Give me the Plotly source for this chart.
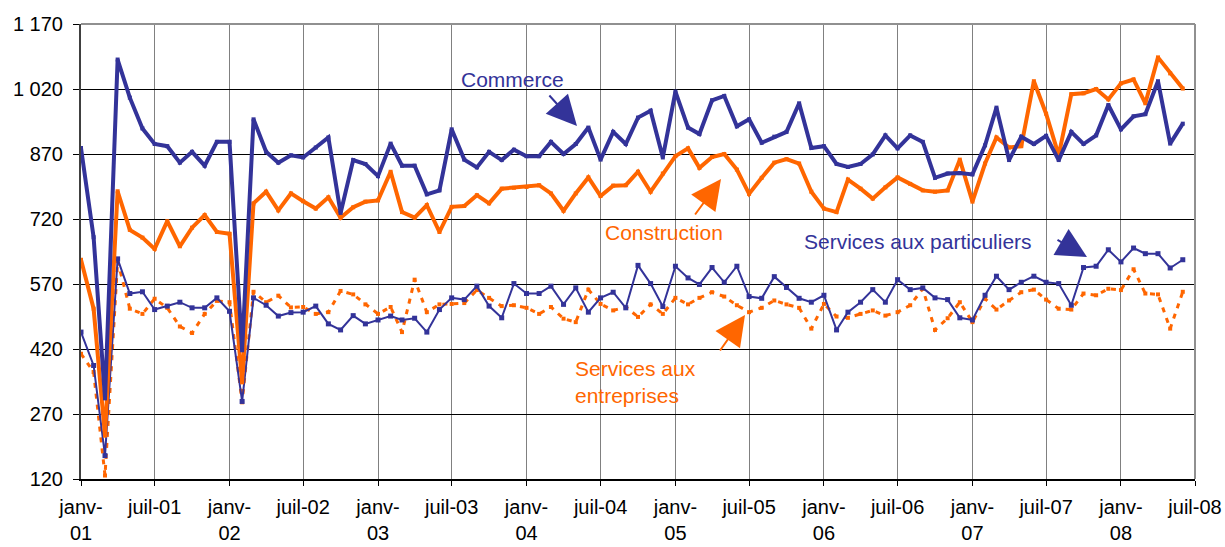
import pandas as pd
import plotly.graph_objects as go

# Monthly series, Jan 2001 -> Jun 2008
months = pd.date_range("2001-01-01", periods=90, freq="MS")

commerce = [884, 678, 306, 1088, 1000, 929, 893, 888, 850, 875, 843, 898,
            898, 417, 950, 875, 850, 867, 862, 885, 908, 734, 856, 847,
            819, 894, 843, 843, 777, 786, 927, 857, 839, 875, 856, 880,
            865, 865, 898, 870, 893, 931, 857, 921, 893, 954, 970, 862,
            1014, 931, 916, 994, 1004, 934, 950, 896, 910, 921, 987, 884,
            888, 847, 840, 847, 869, 913, 883, 913, 898, 815, 825, 826,
            823, 890, 977, 856, 910, 893, 912, 856, 921, 893, 913, 983,
            927, 957, 962, 1038, 894, 940]

construction = [626, 513, 220, 784, 695, 677, 651, 715, 657, 700, 729, 690,
                686, 343, 756, 783, 740, 779, 761, 744, 770, 723, 747, 760,
                763, 829, 736, 723, 752, 690, 748, 750, 775, 756, 790, 792,
                794, 798, 779, 739, 779, 816, 773, 797, 798, 829, 783, 825,
                865, 883, 838, 863, 870, 834, 778, 815, 850, 858, 848, 783,
                744, 736, 811, 790, 767, 793, 816, 801, 786, 783, 786, 857,
                760, 848, 908, 885, 888, 1038, 963, 867, 1008, 1010, 1020, 996,
                1033, 1042, 987, 1093, 1056, 1021]

particuliers = [459, 382, 174, 628, 548, 552, 511, 519, 528, 515, 515, 538,
                507, 299, 538, 521, 496, 504, 505, 519, 478, 464, 497, 478,
                487, 496, 487, 491, 459, 511, 538, 534, 565, 519, 492, 571,
                548, 548, 565, 523, 561, 505, 538, 551, 515, 613, 571, 518,
                611, 584, 569, 608, 574, 611, 541, 537, 587, 562, 537, 528,
                544, 464, 505, 528, 557, 528, 580, 557, 561, 538, 534, 492,
                487, 544, 588, 557, 574, 588, 574, 571, 521, 608, 611, 649,
                621, 653, 640, 640, 607, 626]

entreprises = [409, 367, 128, 623, 513, 501, 536, 515, 472, 457, 501, 531,
               528, 297, 552, 528, 543, 516, 517, 501, 505, 554, 546, 523,
               501, 517, 459, 580, 505, 523, 524, 526, 556, 538, 519, 521,
               515, 501, 517, 490, 482, 557, 524, 509, 517, 494, 523, 501,
               538, 523, 538, 551, 541, 521, 505, 515, 532, 523, 515, 467,
               524, 495, 492, 501, 509, 497, 505, 521, 559, 464, 491, 528,
               482, 536, 511, 532, 551, 557, 534, 513, 511, 548, 544, 559,
               556, 604, 548, 546, 467, 552]

y_ticks = [120, 270, 420, 570, 720, 870, 1020, 1170]
y_ticktext = ["120", "270", "420", "570", "720", "870", "1 020", "1 170"]

x_ticks = pd.date_range("2001-01-01", "2008-07-01", freq="6MS")
x_ticktext = ["janv-<br>01", "juil-01", "janv-<br>02", "juil-02", "janv-<br>03", "juil-03",
              "janv-<br>04", "juil-04", "janv-<br>05", "juil-05", "janv-<br>06", "juil-06",
              "janv-<br>07", "juil-07", "janv-<br>08", "juil-08"]

BLUE = "#333399"
ORANGE = "#FF6600"
FONT = "Liberation Sans, Arial, sans-serif"

fig = go.Figure()
fig.add_trace(go.Scatter(x=months, y=entreprises, mode="lines+markers", name="Services aux entreprises",
                         line=dict(color=ORANGE, width=3, dash="5px,6px"),
                         marker=dict(color=ORANGE, size=4, symbol="square")))
fig.add_trace(go.Scatter(x=months, y=particuliers, mode="lines+markers", name="Services aux particuliers",
                         line=dict(color=BLUE, width=2),
                         marker=dict(color=BLUE, size=5, symbol="square")))
fig.add_trace(go.Scatter(x=months, y=construction, mode="lines+markers", name="Construction",
                         line=dict(color=ORANGE, width=4),
                         marker=dict(color=ORANGE, size=4, symbol="square")))
fig.add_trace(go.Scatter(x=months, y=commerce, mode="lines+markers", name="Commerce",
                         line=dict(color=BLUE, width=4),
                         marker=dict(color=BLUE, size=4, symbol="square")))

L, R, T, B = 81, 30, 24, 68
W, H = 1225, 547
pw, ph = W - L - R, H - T - B


def px(xp):
    return (xp - L) / pw


def py(yp):
    return (H - B - yp) / ph


texts = [
    ("Commerce", 512, 79, BLUE, "center"),
    ("Construction", 664, 232, ORANGE, "center"),
    ("Services aux<br>entreprises", 573, 382, ORANGE, "left"),
    ("Services aux particuliers", 918, 241, BLUE, "center"),
]
annotations = []
for t, xx, yy, c, anc in texts:
    annotations.append(dict(text=t, x=px(xx), y=py(yy), xref="paper", yref="paper",
                            showarrow=False, xanchor=anc, yanchor="middle", align="left",
                            font=dict(family=FONT, size=21, color=c)))

arrows = [
    (577, 126, 548, 94, BLUE),
    (721, 179, 694, 216, ORANGE),
    (745, 315, 719, 352, ORANGE),
    (1087, 257, 1056, 239, BLUE),
]
for tx, ty, sx, sy, c in arrows:
    annotations.append(dict(text="", x=px(tx), y=py(ty), xref="paper", yref="paper",
                            showarrow=True, ax=sx - tx, ay=sy - ty, axref="pixel", ayref="pixel",
                            arrowhead=2, arrowsize=3, arrowwidth=2, arrowcolor=c, standoff=0))

fig.update_layout(
    width=W, height=H,
    margin=dict(l=L, r=R, t=T, b=B, pad=0),
    paper_bgcolor="white", plot_bgcolor="white",
    showlegend=False,
    font=dict(family=FONT, size=20, color="black"),
    annotations=annotations,
    shapes=[
        dict(type="line", xref="paper", yref="paper", x0=0, x1=1, y0=1, y1=1,
             line=dict(color="#909090", width=2), layer="above"),
        dict(type="line", xref="paper", yref="paper", x0=1, x1=1, y0=0, y1=1,
             line=dict(color="#909090", width=2), layer="above"),
    ],
)
fig.update_xaxes(
    type="date", range=["2001-01-01", "2008-07-01"],
    tickvals=list(x_ticks), ticktext=x_ticktext,
    showgrid=True, gridcolor="#808080", gridwidth=1,
    showline=True, linecolor="black", linewidth=2,
    ticks="outside", ticklen=5, tickcolor="black", tickwidth=1,
    tickfont=dict(family=FONT, size=20, color="black"),
    ticklabelstandoff=4,
    zeroline=False, fixedrange=True, automargin=False,
)
fig.update_yaxes(
    range=[120, 1170], tickvals=y_ticks, ticktext=y_ticktext,
    showgrid=True, gridcolor="black", gridwidth=1,
    showline=True, linecolor="#404040", linewidth=2,
    ticks="outside", ticklen=6, tickcolor="black", tickwidth=1,
    tickfont=dict(family=FONT, size=20, color="black"),
    ticklabelstandoff=6,
    zeroline=False, fixedrange=True, automargin=False,
)

fig.write_html("out.html", config={"displayModeBar": False},
               post_script="document.body.style.margin='0';document.body.style.overflow='hidden';")
